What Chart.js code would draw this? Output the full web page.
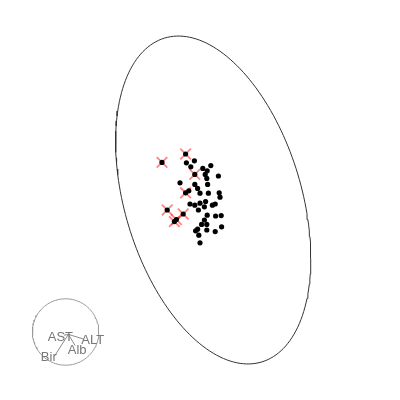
<!DOCTYPE html>
<html>
<head>
<meta charset="utf-8">
<script src="https://cdn.jsdelivr.net/npm/chart.js@4"></script>
<style>
html,body{margin:0;padding:0;background:#fff;}
#wrap{width:400px;height:400px;}
</style>
</head>
<body>
<div id="wrap"><canvas id="c" width="400" height="400"></canvas></div>
<script>
// Observation scores (PC1, PC2)
const normalX = [-0.34,-0.14,-0.23,0.07,0.27,0.18,0.13,0.17,0.46,-0.50,-0.13,0.19,-0.06,-0.28,0.48,0.21,0.00,0.50,-0.25,-0.13,0.00,0.14,0.11,0.31,0.38,-0.04,0.18,0.39,0.53,0.11,0.04,0.17,-0.06,0.17,0.38,0.54,-0.03,0.00,-0.11];
const normalY = [0.93,0.98,0.83,0.79,0.86,0.73,0.64,0.54,0.60,0.43,0.39,0.39,0.29,0.23,0.18,0.17,0.17,0.07,-0.10,-0.13,-0.08,-0.04,-0.17,-0.13,-0.10,-0.25,-0.38,-0.40,-0.39,-0.50,-0.61,-0.61,-0.73,-0.75,-0.79,-0.67,-0.88,-1.07,-0.77];
// Flagged observations
const flaggedX = [-0.95,-0.36,-0.13,-0.36,-0.82,-0.42,-0.64,-0.59];
const flaggedY = [0.94,1.15,0.64,0.18,-0.25,-0.35,-0.54,-0.49];
// Confidence ellipse: centre and Cholesky factor of its shape matrix
const ellipseCenter = [0.33, 0.0];
const ellipseShape = [[2.44, 0.0],[-1.46, 3.83]];
// Correlation circle (variable loadings)
const circleCenter = [-3.36, -3.30];
const circleRadius = 0.83;
const varNames = ["AST","ALT","Alb","Bir"];
const varOrigin = [-3.29, -3.36];
const varEndX = [-3.40, -2.90, -3.12, -3.63];
const varEndY = [-3.38, -3.48, -3.64, -3.89];
const varLabelX = [-3.49, -2.68, -3.07, -3.78];
const varLabelY = [-3.43, -3.52, -3.75, -3.94];

const toPts = (xs, ys) => xs.map((x, i) => ({x: x, y: ys[i]}));

const ellipsePts = [];
for (let k = 0; k <= 180; k++) {
  const t = 2 * Math.PI * k / 180;
  const c = Math.cos(t), s = Math.sin(t);
  ellipsePts.push({
    x: ellipseCenter[0] + ellipseShape[0][0] * c + ellipseShape[0][1] * s,
    y: ellipseCenter[1] + ellipseShape[1][0] * c + ellipseShape[1][1] * s
  });
}
const circlePts = [];
for (let k = 0; k <= 120; k++) {
  const t = 2 * Math.PI * k / 120;
  circlePts.push({x: circleCenter[0] + circleRadius * Math.cos(t), y: circleCenter[1] + circleRadius * Math.sin(t)});
}
const arrowSets = varNames.map((n, i) => ({
  type: 'line',
  data: [{x: varOrigin[0], y: varOrigin[1]}, {x: varEndX[i], y: varEndY[i]}],
  borderColor: '#8a8a8a', borderWidth: 1, pointRadius: 0, showLine: true, fill: false
}));

const labelPlugin = {
  id: 'varLabels',
  afterDatasetsDraw(chart) {
    const ctx = chart.ctx, xs = chart.scales.x, ys = chart.scales.y;
    ctx.save();
    ctx.font = '13px "Liberation Sans", Arial, sans-serif';
    ctx.fillStyle = '#777777';
    ctx.textAlign = 'center';
    ctx.textBaseline = 'middle';
    varNames.forEach((n, i) => {
      ctx.fillText(n, xs.getPixelForValue(varLabelX[i]), ys.getPixelForValue(varLabelY[i]));
    });
    ctx.restore();
  }
};

new Chart(document.getElementById('c'), {
  type: 'scatter',
  data: {
    datasets: [
      {type: 'line', data: ellipsePts, borderColor: '#333333', borderWidth: 1, pointRadius: 0, fill: false, tension: 0},
      {type: 'line', data: circlePts, borderColor: '#999999', borderWidth: 1, pointRadius: 0, fill: false, tension: 0},
      ...arrowSets,
      {data: toPts(normalX, normalY), pointStyle: 'circle', pointRadius: 2.6, backgroundColor: '#000', borderWidth: 0},
      {data: toPts(flaggedX, flaggedY), pointStyle: 'circle', pointRadius: 2.6, backgroundColor: '#000', borderWidth: 0},
      {data: toPts(flaggedX, flaggedY), pointStyle: 'crossRot', pointRadius: 7.5, borderColor: 'rgba(255,30,30,0.55)', borderWidth: 1.8, backgroundColor: 'rgba(0,0,0,0)'}
    ]
  },
  options: {
    responsive: false,
    animation: false,
    events: [],
    layout: {padding: 0, autoPadding: false},
    plugins: {legend: {display: false}, tooltip: {enabled: false}},
    scales: {
      x: {type: 'linear', min: -5, max: 5, display: false},
      y: {type: 'linear', min: -5, max: 5, display: false}
    }
  },
  plugins: [labelPlugin]
});
</script>
</body>
</html>
